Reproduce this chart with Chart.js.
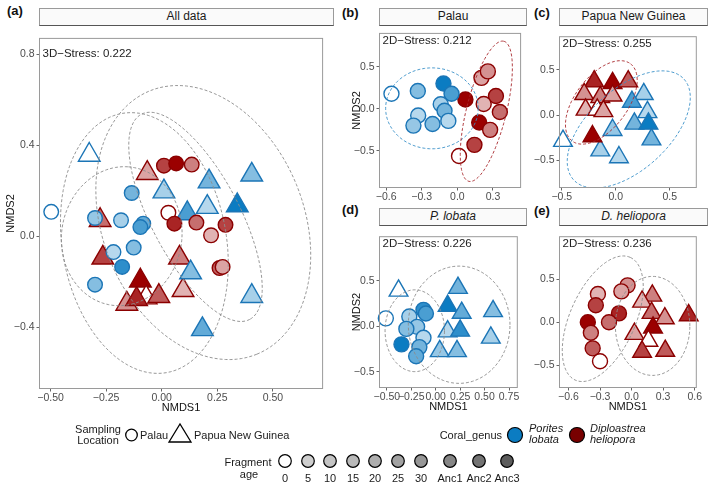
<!DOCTYPE html>
<html>
<head>
<meta charset="utf-8">
<script src="https://cdn.jsdelivr.net/npm/chart.js@4.4.1/dist/chart.umd.min.js"></script>
<style>
  body { margin: 0; background: #fff; font-family: "Liberation Sans", Arial, sans-serif; }
  #fig { position: relative; width: 709px; height: 487px; overflow: hidden; }
  canvas { position: absolute; }
  .strip { position: absolute; box-sizing: border-box; background: #fafafa; border: 1px solid #9a9a9a;
           border-bottom: 1px solid #555; font-size: 12px; text-align: center; line-height: 15px; color: #1a1a1a; }
  .tag { position: absolute; font-weight: bold; font-size: 13px; color: #111; line-height: 13px; }
  #legend { position: absolute; left: 0; top: 0; }
</style>
</head>
<body>
<div id="fig">
  <div class="tag" style="left:7px;top:4px">(a)</div>
  <div class="tag" style="left:342px;top:6px">(b)</div>
  <div class="tag" style="left:534px;top:6px">(c)</div>
  <div class="tag" style="left:342px;top:203px">(d)</div>
  <div class="tag" style="left:534px;top:204px">(e)</div>

  <div class="strip" style="left:39px;top:8px;width:295px;height:18px">All data</div>
  <div class="strip" style="left:379px;top:8px;width:148px;height:18px">Palau</div>
  <div class="strip" style="left:559px;top:8px;width:149px;height:18px">Papua New Guinea</div>
  <div class="strip" style="left:379px;top:208px;width:148px;height:18px"><i>P. lobata</i></div>
  <div class="strip" style="left:559px;top:208px;width:149px;height:18px"><i>D. heliopora</i></div>

  <canvas id="panelA" width="337" height="395" style="left:0px;top:24px"></canvas>
  <canvas id="panelB" width="184" height="180" style="left:346px;top:24px"></canvas>
  <canvas id="panelC" width="179" height="180" style="left:530px;top:24px"></canvas>
  <canvas id="panelD" width="184" height="194" style="left:346px;top:224px"></canvas>
  <canvas id="panelE" width="179" height="194" style="left:530px;top:224px"></canvas>

  <svg id="legend" width="709" height="487"></svg>
</div>

<script>
// ===== DATA =====
// points are [NMDS1, NMDS2, fragment age]
const ageLevels = ["0", "5", "10", "15", "20", "25", "30", "Anc1", "Anc2", "Anc3"];

// (a) all data
const allPalauPorites = [
  [-0.497, 0.107, "0"], [-0.135, 0.19, "25"], [-0.30, 0.08, "15"], [-0.183, 0.07, "10"],
  [-0.083, 0.055, "30"], [-0.096, 0.04, "Anc1"], [-0.217, -0.07, "5"], [-0.126, -0.05, "20"],
  [-0.178, -0.135, "Anc2"], [-0.30, -0.213, "20"]
];
const allPalauDiplo = [
  [0.01, 0.31, "Anc1"], [0.065, 0.32, "Anc3"], [0.135, 0.315, "20"], [0.03, 0.103, "0"],
  [0.057, 0.055, "Anc2"], [0.156, 0.06, "25"], [0.287, 0.05, "Anc1"], [0.222, 0.004, "5"],
  [0.26, -0.14, "30"], [0.274, -0.135, "10"]
];
const allPngPorites = [
  [-0.326, 0.357, "0"], [0.213, 0.24, "25"], [0.405, 0.27, "20"], [0.01, 0.196, "10"],
  [0.115, 0.10, "Anc1"], [0.205, 0.128, "5"], [0.34, 0.135, "Anc3"], [0.13, -0.16, "20"],
  [0.405, -0.264, "10"], [0.183, -0.41, "30"]
];
const allPngDiplo = [
  [-0.065, 0.277, "10"], [-0.277, 0.07, "25"], [-0.265, -0.095, "Anc1"], [0.08, -0.095, "20"],
  [-0.096, -0.196, "Anc3"], [0.096, -0.238, "5"], [-0.07, -0.27, "0"], [-0.157, -0.298, "15"],
  [-0.113, -0.277, "Anc2"], [-0.013, -0.264, "30"]
];

// (b) Palau
const palauPorites = [
  [-0.555, 0.178, "0"], [-0.333, 0.21, "20"], [-0.117, 0.3, "Anc3"], [-0.049, 0.178, "Anc1"],
  [-0.14, 0.053, "10"], [-0.108, -0.023, "25"], [-0.33, -0.08, "5"], [-0.076, -0.144, "5"],
  [-0.37, -0.2, "15"], [-0.209, -0.18, "20"]
];
const palauDiplo = [
  [0.068, 0.11, "Anc3"], [0.203, 0.367, "10"], [0.257, 0.443, "15"], [0.325, 0.151, "Anc1"],
  [0.222, 0.057, "5"], [0.358, -0.038, "25"], [0.184, -0.163, "Anc3"], [0.276, -0.25, "20"],
  [0.144, -0.428, "Anc1"], [0.014, -0.56, "0"]
];

// (c) Papua New Guinea
const pngDiplo = [
  [-0.2, 0.372, "Anc2"], [-0.03, 0.354, "Anc3"], [0.115, 0.372, "30"], [-0.293, 0.232, "15"],
  [-0.144, 0.198, "20"], [-0.03, 0.215, "10"], [-0.28, 0.059, "5"], [-0.172, 0.059, "0"],
  [-0.115, 0.042, "10"], [-0.216, -0.236, "Anc3"]
];
const pngPorites = [
  [0.259, 0.232, "10"], [0.149, 0.146, "Anc1"], [0.293, 0.031, "5"], [0.172, -0.097, "25"],
  [0.302, -0.097, "Anc3"], [-0.03, -0.167, "15"], [0.33, -0.271, "25"], [-0.144, -0.393, "10"],
  [0.029, -0.469, "5"], [-0.489, -0.288, "0"]
];

// (d) P. lobata
const lobataPalau = [
  [-0.51, 0.086, "0"], [-0.125, 0.18, "Anc2"], [-0.1, 0.14, "Anc1"], [-0.27, 0.106, "10"],
  [-0.19, -0.007, "15"], [-0.3, -0.03, "20"], [-0.125, -0.127, "5"], [-0.35, -0.2, "Anc3"],
  [-0.167, -0.23, "25"], [-0.2, -0.33, "30"]
];
const lobataPng = [
  [-0.38, 0.39, "0"], [0.228, 0.42, "25"], [0.122, 0.223, "Anc3"], [0.266, 0.147, "30"],
  [0.587, 0.165, "20"], [0.122, -0.058, "5"], [0.25, -0.05, "Anc2"], [0.564, -0.127, "10"],
  [0.041, -0.275, "15"], [0.218, -0.275, "20"]
];

// (e) D. heliopora
const helioporaPalau = [
  [-0.038, 0.43, "15"], [-0.097, 0.36, "10"], [-0.32, 0.33, "5"], [-0.34, 0.2, "Anc1"],
  [-0.12, 0.105, "Anc2"], [-0.215, 0.003, "25"], [-0.416, 0.003, "Anc3"], [-0.387, -0.12, "20"],
  [-0.37, -0.30, "30"], [-0.3, -0.45, "0"]
];
const helioporaPng = [
  [0.197, 0.31, "20"], [0.1, 0.24, "5"], [0.19, 0.11, "25"], [0.316, 0.047, "15"],
  [0.543, 0.083, "Anc2"], [0.204, -0.06, "Anc3"], [0.027, -0.134, "10"], [0.16, -0.214, "0"],
  [0.1, -0.34, "Anc1"], [0.32, -0.33, "30"]
];

// ellipses: [centre x, centre y, axis1 x, axis1 y, axis2 x, axis2 y]
const ellipsesA = [
  [0.187, 0.06, 0.241, -0.579, -0.419, -0.167],
  [0.152, 0.085, 0.244, -0.451, -0.175, -0.091],
  [-0.18, 0.0, 0.03, 0.305, 0.27, -0.02],
  [-0.078, -0.03, 0.1, -0.57, -0.364, -0.062]
];
const ellipsesB = [
  [-0.214, 0.005, 0.39, 0, 0, 0.48],
  [0.244, -0.03, 0.147, 0.831, 0.163, -0.056]
];
const ellipsesC = [
  [-0.134, 0.14, 0.271, 0.428, 0.192, -0.177],
  [0.12, -0.16, 0.512, 0.558, 0.25, -0.334]
];
const ellipsesD = [
  [-0.214, -0.05, 0.304, 0, 0, 0.45],
  [0.24, 0.016, 0.52, 0, 0, 0.645]
];
const ellipsesE = [
  [-0.274, 0.043, 0.262, 0.711, 0.282, -0.157],
  [0.2, -0.04, 0.354, 0, 0, 0.574]
];

// tick values
const aXTicks = [-0.5, -0.25, 0, 0.25, 0.5];
const aYTicks = [-0.4, 0, 0.4, 0.8];
const bXTicks = [-0.6, -0.3, 0, 0.3];
const bYTicks = [-0.5, 0, 0.5];
const cXTicks = [-0.5, 0, 0.5];
const cYTicks = [-0.5, 0, 0.5];
const dXTicks = [-0.5, -0.25, 0, 0.25, 0.5, 0.75];
const dYTicks = [-0.5, 0, 0.5];
const eXTicks = [-0.6, -0.3, 0, 0.3, 0.6];
const eYTicks = [-0.5, 0, 0.5];

// ===== STYLE =====
const FONT = '"Liberation Sans", Arial, sans-serif';
const STROKE = { P: "#1b75b6", D: "#8b0000" };
const BASE = { P: [11, 124, 194], D: [155, 0, 0], G: [92, 92, 92] };
const AGE_T = [0, 0.3, 0.36, 0.43, 0.5, 0.57, 0.64, 0.74, 0.86, 1];
const GREY_ELL = "#8c8c8c";
const BLUE_ELL = "#3a91c8";
const RED_ELL = "#a8282d";

function ageFill(genus, age) {
  const t = AGE_T[ageLevels.indexOf(age)];
  const c = BASE[genus].map(v => Math.round(255 - (255 - v) * t));
  return "rgb(" + c.join(",") + ")";
}

function fmt(v, dec) {
  const s = Math.abs(v).toFixed(dec);
  return v < -1e-9 ? "\u2212" + s : s;
}

function group(pts, genus, loc, size) {
  const palau = loc === "Palau";
  return {
    data: pts.map(p => ({ x: p[0], y: p[1] })),
    pointStyle: palau ? "circle" : "triangle",
    pointRadius: palau ? size[0] : size[1],
    pointBackgroundColor: pts.map(p => ageFill(genus, p[2])),
    pointBorderColor: STROKE[genus],
    pointBorderWidth: 1.4,
    showLine: false,
    clip: false
  };
}

// ===== PLUGIN: ellipses, panel border, stress label =====
const decor = {
  id: "decor",
  afterDatasetsDraw(chart) {
    const p = chart.options.plugins.decor;
    const { ctx, chartArea: ca } = chart;
    const xs = chart.scales.x, ys = chart.scales.y;

    ctx.save();
    ctx.beginPath();
    ctx.rect(ca.left, ca.top, ca.right - ca.left, ca.bottom - ca.top);
    ctx.clip();
    ctx.setLineDash([3, 2]);
    ctx.lineWidth = 0.9;
    p.ellipses.forEach((e, i) => {
      ctx.strokeStyle = p.colors[i];
      ctx.beginPath();
      for (let k = 0; k <= 120; k++) {
        const t = k / 120 * Math.PI * 2;
        const x = e[0] + e[2] * Math.cos(t) + e[4] * Math.sin(t);
        const y = e[1] + e[3] * Math.cos(t) + e[5] * Math.sin(t);
        const px = xs.getPixelForValue(x), py = ys.getPixelForValue(y);
        if (k === 0) ctx.moveTo(px, py); else ctx.lineTo(px, py);
      }
      ctx.stroke();
    });
    ctx.restore();

    ctx.save();
    ctx.strokeStyle = "#9a9a9a";
    ctx.lineWidth = 1;
    ctx.strokeRect(ca.left + 0.5, ca.top + 0.5, ca.right - ca.left - 1, ca.bottom - ca.top - 1);
    ctx.fillStyle = "#222";
    ctx.font = "11.5px " + FONT;
    ctx.textBaseline = "middle";
    ctx.fillText(p.stress, ca.left + 3.5, ys.getPixelForValue(p.stressY));
    ctx.restore();
  }
};

function axis(range, ticks, dec, title, size, horizontal) {
  return {
    type: "linear",
    min: range[0],
    max: range[1],
    afterBuildTicks: s => { s.ticks = ticks.map(v => ({ value: v })); },
    afterFit: s => {
      if (horizontal) { s.height = size; s.paddingLeft = 0; s.paddingRight = 0; }
      else { s.width = size; s.paddingTop = 0; s.paddingBottom = 0; }
    },
    ticks: {
      autoSkip: false, maxRotation: 0, minRotation: 0,
      padding: horizontal ? 0 : 2,
      color: "#4d4d4d",
      font: { family: FONT, size: 10.5 },
      callback: v => fmt(v, dec)
    },
    grid: { drawOnChartArea: false, drawTicks: true, tickLength: 2.5, color: "#666", lineWidth: 1 },
    border: { display: false },
    title: {
      display: !!title, text: title, color: "#111",
      font: { family: FONT, size: 11 }, padding: { top: 4, bottom: 4 }
    }
  };
}

function panel(id, cfg) {
  return new Chart(document.getElementById(id), {
    type: "scatter",
    data: { datasets: cfg.groups },
    options: {
      responsive: false,
      animation: false,
      events: [],
      layout: { padding: { top: 1, right: cfg.padRight, left: 0, bottom: 0 } },
      scales: {
        x: axis(cfg.xRange, cfg.xTicks, cfg.xDec, cfg.xTitle, cfg.xAxisH, true),
        y: axis(cfg.yRange, cfg.yTicks, cfg.yDec, cfg.yTitle, cfg.yAxisW, false)
      },
      plugins: {
        legend: { display: false },
        tooltip: { enabled: false },
        decor: { ellipses: cfg.ellipses, colors: cfg.colors, stress: cfg.stress, stressY: cfg.stressY }
      }
    },
    plugins: [decor]
  });
}

// ===== PANELS =====
const bigSize = [7.3, 12.5];
const smallSize = [7.5, 10.8];

panel("panelA", {
  groups: [
    group(allPalauPorites, "P", "Palau", bigSize),
    group(allPalauDiplo, "D", "Palau", bigSize),
    group(allPngPorites, "P", "PNG", bigSize),
    group(allPngDiplo, "D", "PNG", bigSize)
  ],
  xRange: [-0.552, 0.726], yRange: [-0.672, 0.872],
  xTicks: aXTicks, yTicks: aYTicks, xDec: 2, yDec: 1,
  xTitle: "NMDS1", yTitle: "NMDS2", xAxisH: 30, yAxisW: 39, padRight: 3,
  ellipses: ellipsesA, colors: [GREY_ELL, GREY_ELL, GREY_ELL, GREY_ELL],
  stress: "3D\u2212Stress: 0.222", stressY: 0.8
});

panel("panelB", {
  groups: [
    group(palauPorites, "P", "Palau", smallSize),
    group(palauDiplo, "D", "Palau", smallSize)
  ],
  xRange: [-0.66, 0.537], yRange: [-0.94, 0.9],
  xTicks: bXTicks, yTicks: bYTicks, xDec: 1, yDec: 1,
  xTitle: "", yTitle: "NMDS2", xAxisH: 16, yAxisW: 33, padRight: 3,
  ellipses: ellipsesB, colors: [BLUE_ELL, RED_ELL],
  stress: "2D\u2212Stress: 0.212", stressY: 0.807
});

panel("panelC", {
  groups: [
    group(pngDiplo, "D", "PNG", smallSize),
    group(pngPorites, "P", "PNG", smallSize)
  ],
  xRange: [-0.526, 0.75], yRange: [-0.81, 0.875],
  xTicks: cXTicks, yTicks: cYTicks, xDec: 1, yDec: 1,
  xTitle: "", yTitle: "", xAxisH: 16, yAxisW: 29, padRight: 1,
  ellipses: ellipsesC, colors: [RED_ELL, BLUE_ELL],
  stress: "2D\u2212Stress: 0.255", stressY: 0.79
});

panel("panelD", {
  groups: [
    group(lobataPalau, "P", "Palau", smallSize),
    group(lobataPng, "P", "PNG", smallSize)
  ],
  xRange: [-0.58, 0.84], yRange: [-0.68, 0.99],
  xTicks: dXTicks, yTicks: dYTicks, xDec: 2, yDec: 1,
  xTitle: "NMDS1", yTitle: "NMDS2", xAxisH: 30, yAxisW: 33, padRight: 3,
  ellipses: ellipsesD, colors: [GREY_ELL, GREY_ELL],
  stress: "2D\u2212Stress: 0.226", stressY: 0.907
});

panel("panelE", {
  groups: [
    group(helioporaPalau, "D", "Palau", smallSize),
    group(helioporaPng, "D", "PNG", smallSize)
  ],
  xRange: [-0.69, 0.62], yRange: [-0.76, 1.0],
  xTicks: eXTicks, yTicks: eYTicks, xDec: 1, yDec: 1,
  xTitle: "NMDS1", yTitle: "", xAxisH: 30, yAxisW: 29, padRight: 1,
  ellipses: ellipsesE, colors: [GREY_ELL, GREY_ELL],
  stress: "2D\u2212Stress: 0.236", stressY: 0.913
});

// ===== LEGEND =====
const svg = document.getElementById("legend");
const NS = "http://www.w3.org/2000/svg";

function el(tag, attrs, text) {
  const e = document.createElementNS(NS, tag);
  for (const k in attrs) e.setAttribute(k, attrs[k]);
  if (text) e.textContent = text;
  svg.appendChild(e);
  return e;
}
function label(x, y, text, anchor, italic) {
  el("text", {
    x: x, y: y, "font-size": 11, "font-family": FONT, fill: "#1a1a1a",
    "text-anchor": anchor || "start", "dominant-baseline": "central",
    "font-style": italic ? "italic" : "normal"
  }, text);
}

// sampling location
label(98, 429, "Sampling", "middle");
label(98, 440, "Location", "middle");
el("circle", { cx: 131.5, cy: 435, r: 5.8, fill: "#fff", stroke: "#000", "stroke-width": 1.3 });
label(140, 435, "Palau");
el("polygon", { points: "169,442 191,442 180,424", fill: "#fff", stroke: "#000", "stroke-width": 1.3 });
label(194, 435, "Papua New Guinea");

// coral genus
label(502, 435, "Coral_genus", "end");
el("circle", { cx: 515, cy: 435, r: 7.5, fill: "rgb(11,124,194)", stroke: "#000", "stroke-width": 1.2 });
label(529, 428, "Porites", "start", true);
label(529, 439, "lobata", "start", true);
el("circle", { cx: 577, cy: 435, r: 7.5, fill: "rgb(120,0,0)", stroke: "#000", "stroke-width": 1.2 });
label(590, 428, "Diploastrea", "start", true);
label(590, 439, "heliopora", "start", true);

// fragment age
label(248, 462, "Fragment", "middle");
label(249, 474, "age", "middle");
const ageKeyX = [285, 308, 330, 353, 375, 398, 421, 450, 479, 507];
ageLevels.forEach((a, i) => {
  el("circle", { cx: ageKeyX[i], cy: 461, r: 6.3, fill: ageFill("G", a), stroke: "#000", "stroke-width": 1.2 });
  label(ageKeyX[i], 478, a, "middle");
});
</script>
</body>
</html>
